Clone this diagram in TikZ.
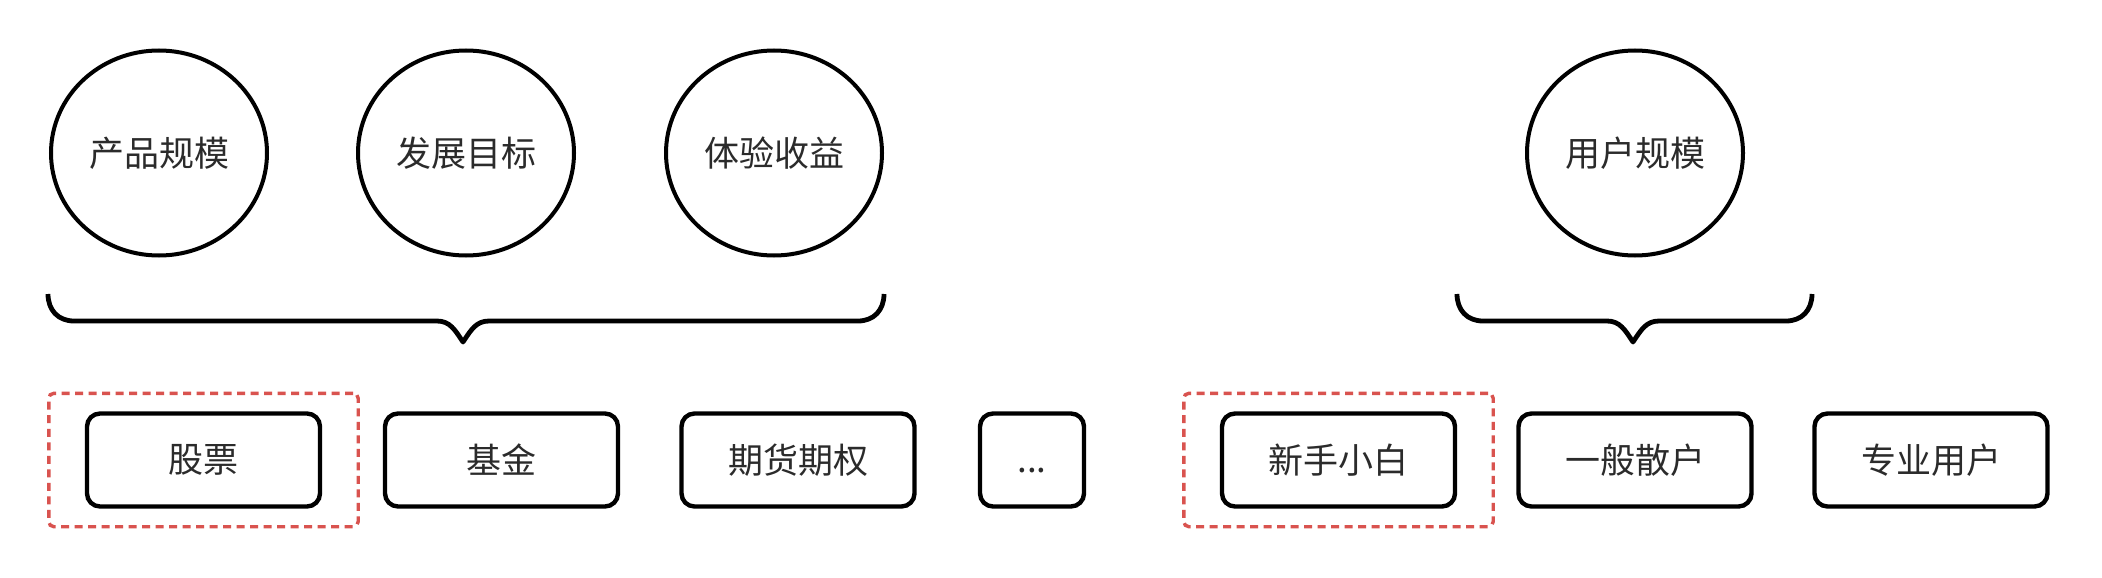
\documentclass[tikz,border=0pt]{standalone}
\usepackage{fontspec}
\newfontfamily\cjk{Noto Sans CJK SC}
\usetikzlibrary{shapes.geometric,fit}
\definecolor{txt}{HTML}{2B2B2B}
\definecolor{redd}{HTML}{D9534F}
\begin{document}
\begin{tikzpicture}[x=1pt,y=-1pt,
  lbl/.style={font=\cjk\fontsize{35}{42}\selectfont, text=txt},
  oval/.style={ellipse, draw=black, line width=4pt, minimum width=216pt, minimum height=205pt, inner sep=0pt, lbl},
  itembox/.style={rectangle, draw=black, line width=4.4pt, rounded corners=13pt, minimum width=233pt, minimum height=93pt, inner sep=0pt, lbl},
  smallbox/.style={itembox, minimum width=104pt},
  hilite/.style={rectangle, draw=redd, line width=3.4pt, dash pattern=on 8pt off 5.5pt, rounded corners=5pt, inner xsep=36pt, inner ysep=18pt},
  bracestyle/.style={line width=4.8pt, line join=round}
]
\fill[white] (0,0) rectangle (2102,578);
\useasboundingbox (0,0) rectangle (2102,578);

\node[oval] (cp) at (159,153) {产品规模};
\node[oval] (fz) at (466,153) {发展目标};
\node[oval] (ty) at (774,153) {体验收益};
\node[oval] (yh) at (1635,153) {用户规模};

\node[itembox] (gp) at (203.5,460) {股票};
\node[itembox] (jj) at (501.5,460) {基金};
\node[itembox] (qh) at (798,460) {期货期权};
\node[smallbox] (dd) at (1032,460) {\vphantom{股}...};
\node[itembox] (xs) at (1338.5,460) {新手小白};
\node[itembox] (yb) at (1635,460) {一般散户};
\node[itembox] (zy) at (1931,460) {专业用户};

\node[hilite, fit=(gp)] (h1) {};
\node[hilite, fit=(xs)] (h2) {};

% left brace
\draw[bracestyle] (48,294) .. controls (48,310) and (58,321) .. (74,321)
  -- (437,321) .. controls (450,321) and (455,330) .. (463,342)
  .. controls (471,330) and (476,321) .. (489,321)
  -- (858,321) .. controls (874,321) and (884,310) .. (884,294);
% right brace
\draw[bracestyle] (1457,294) .. controls (1457,310) and (1467,321) .. (1483,321)
  -- (1607,321) .. controls (1620,321) and (1625,330) .. (1633,342)
  .. controls (1641,330) and (1646,321) .. (1659,321)
  -- (1786,321) .. controls (1802,321) and (1812,310) .. (1812,294);
\end{tikzpicture}
\end{document}
